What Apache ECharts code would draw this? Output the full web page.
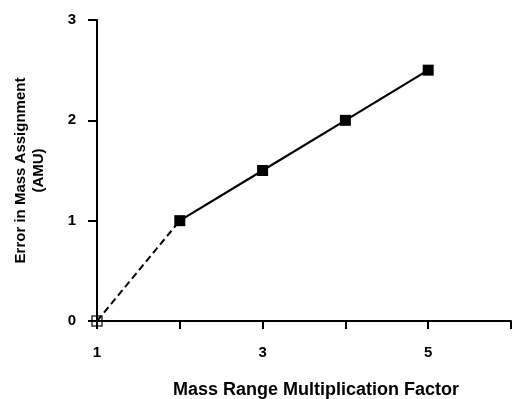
<!DOCTYPE html>
<html>
<head>
<meta charset="utf-8">
<style>html,body{margin:0;padding:0;background:#fff}#c{width:514px;height:399px}</style>
<script src="https://cdn.jsdelivr.net/npm/echarts@6/dist/echarts.min.js"></script>
</head>
<body>
<div id="c"></div>
<script>
const factors = [1, 2, 3, 4, 5];
const errors = [0, 1, 1.5, 2, 2.5];
const xLabelsShown = [1, 3, 5];
const xTitle = 'Mass Range Multiplication Factor';
const yTitle = 'Error in Mass Assignment\n(AMU)';

const dashedPart = [[factors[0], errors[0]], [factors[1], errors[1]]];
const solidPart = factors.slice(1).map((f, i) => [f, errors[i + 1]]);
const originPoint = [[factors[0], errors[0]]];

const font = '"Liberation Sans", Arial, Helvetica, sans-serif';
const chart = echarts.init(document.getElementById('c'));
chart.setOption({
  animation: false,
  backgroundColor: '#fff',
  grid: { left: 97, top: 20, right: 3, bottom: 78, containLabel: false, outerBoundsMode: 'none' },
  xAxis: {
    type: 'value', min: 1, max: 6, interval: 1,
    name: xTitle, nameLocation: 'middle', nameGap: 60,
    nameTextStyle: { fontFamily: font, fontWeight: 'bold', fontSize: 18, color: '#000', padding: [0, 0, 0, 24] },
    axisLine: { show: true, onZero: false, lineStyle: { color: '#000', width: 2 } },
    axisTick: { show: true, inside: false, length: 8, lineStyle: { color: '#000', width: 2 } },
    axisLabel: {
      margin: 24, fontFamily: font, fontWeight: 'bold', fontSize: 15, color: '#000',
      formatter: v => xLabelsShown.includes(v) ? String(v) : ''
    },
    splitLine: { show: false }
  },
  yAxis: {
    type: 'value', min: 0, max: 3, interval: 1,
    name: yTitle, nameLocation: 'middle', nameGap: 49, nameRotate: 90,
    nameTextStyle: { fontFamily: font, fontWeight: 'bold', fontSize: 15, color: '#000', lineHeight: 18 },
    axisLine: { show: true, onZero: false, lineStyle: { color: '#000', width: 2 } },
    axisTick: { show: true, inside: false, length: 9, lineStyle: { color: '#000', width: 2 } },
    axisLabel: { margin: 21, fontFamily: font, fontWeight: 'bold', fontSize: 15, color: '#000' },
    splitLine: { show: false }
  },
  series: [
    {
      type: 'line', data: dashedPart, symbol: 'none',
      lineStyle: { color: '#000', width: 2, type: [7, 4] }, z: 2
    },
    {
      type: 'line', data: solidPart, symbol: 'rect', symbolSize: 11,
      itemStyle: { color: '#000' },
      lineStyle: { color: '#000', width: 2.2 }, z: 3
    },
    {
      type: 'scatter', data: originPoint,
      symbol: 'path://M0,0H10V10H0Z M5,0V10 M0,5H10', symbolSize: 10,
      itemStyle: { color: 'rgba(255,255,255,0)', borderColor: '#000', borderWidth: 1.5 }, z: 4
    }
  ]
});
</script>
</body>
</html>
